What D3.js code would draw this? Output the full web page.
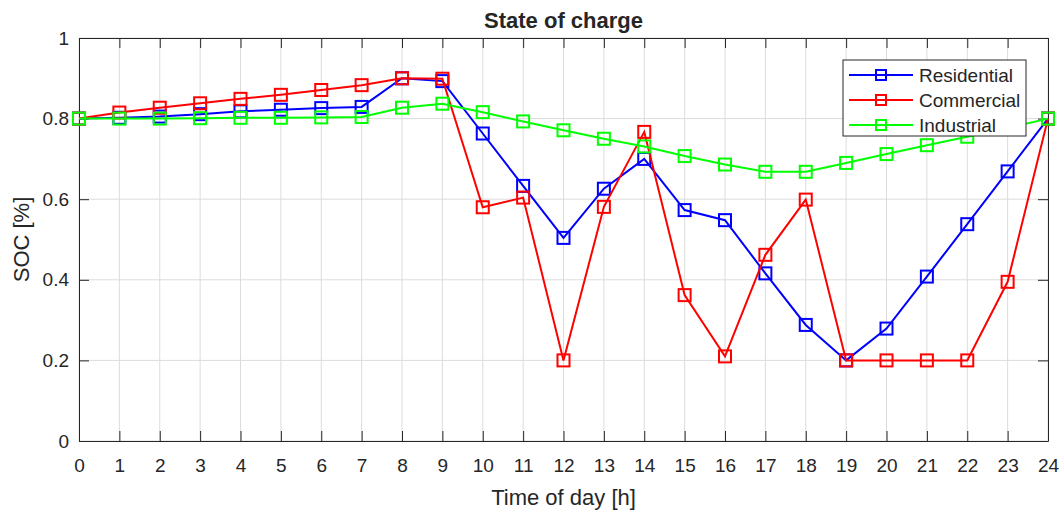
<!DOCTYPE html>
<html>
<head>
<meta charset="utf-8">
<script src="https://cdn.jsdelivr.net/npm/d3@7"></script>
<style>
  body { margin: 0; background: #fff; }
  svg text { font-family: "Liberation Sans", Arial, Helvetica, sans-serif; fill: #262626; }
</style>
</head>
<body>
<svg id="chart" width="1062" height="510"></svg>
<script>
// hours of the day
var hours = d3.range(0, 25);
var seriesNames = ["Residential", "Commercial", "Industrial"];
var seriesColors = ["#0000ff", "#ff0000", "#00ff00"];

var residential = [0.80, 0.802, 0.805, 0.811, 0.818, 0.822, 0.826, 0.829, 0.90, 0.893, 0.763, 0.633,
    0.504, 0.626, 0.70, 0.573, 0.548, 0.416, 0.288, 0.20, 0.279, 0.408, 0.538, 0.669, 0.80];
var commercial = [0.80, 0.815, 0.827, 0.838, 0.849, 0.859, 0.871, 0.883, 0.90, 0.899, 0.58, 0.604,
    0.20, 0.581, 0.767, 0.362, 0.21, 0.462, 0.599, 0.20, 0.20, 0.20, 0.20, 0.395, 0.80];
var industrial = [0.80, 0.80, 0.80, 0.801, 0.802, 0.802, 0.803, 0.804, 0.827, 0.837, 0.816, 0.793,
    0.771, 0.75, 0.731, 0.707, 0.686, 0.668, 0.668, 0.69, 0.712, 0.734, 0.755, 0.777, 0.80];

var xTicks = d3.range(0, 25);
var yTicks = [0, 0.2, 0.4, 0.6, 0.8, 1];

var margin = {left: 79, right: 14, top: 38, bottom: 69};
var width = 1062, height = 510;
var svg = d3.select("#chart");

var x = d3.scaleLinear().domain([0, 24]).range([margin.left, width - margin.right]);
var y = d3.scaleLinear().domain([0, 1]).range([height - margin.bottom, margin.top]);
var axisColor = "#262626";

// grid
var grid = svg.append("g");
grid.selectAll("line.gx").data(xTicks).enter().append("line")
    .attr("x1", function (d) { return x(d); }).attr("x2", function (d) { return x(d); })
    .attr("y1", y(0)).attr("y2", y(1))
    .attr("stroke", "#dcdcdc").attr("stroke-width", 1);
grid.selectAll("line.gy").data(yTicks).enter().append("line")
    .attr("y1", function (d) { return y(d); }).attr("y2", function (d) { return y(d); })
    .attr("x1", x(0)).attr("x2", x(24))
    .attr("stroke", "#dcdcdc").attr("stroke-width", 1);

// axes (box with inward ticks)
function styleAxis(g) {
    g.select(".domain").attr("stroke", axisColor);
    g.selectAll(".tick line").attr("stroke", axisColor);
    g.selectAll(".tick text").attr("font-size", "19px").attr("fill", axisColor);
}
svg.append("g").attr("transform", "translate(0," + y(0) + ")")
    .call(d3.axisBottom(x).tickValues(xTicks).tickFormat(d3.format("d")).tickSizeInner(-10).tickSizeOuter(0).tickPadding(18))
    .call(styleAxis);
svg.append("g").attr("transform", "translate(0," + y(1) + ")")
    .call(d3.axisTop(x).tickValues(xTicks).tickFormat("").tickSizeInner(-10).tickSizeOuter(0))
    .call(styleAxis);
svg.append("g").attr("transform", "translate(" + x(0) + ",0)")
    .call(d3.axisLeft(y).tickValues(yTicks).tickFormat(function (d) { return d3.format("")(+d.toFixed(1)); })
        .tickSizeInner(-10).tickSizeOuter(0).tickPadding(10))
    .call(styleAxis);
svg.append("g").attr("transform", "translate(" + x(24) + ",0)")
    .call(d3.axisRight(y).tickValues(yTicks).tickFormat("").tickSizeInner(-10).tickSizeOuter(0))
    .call(styleAxis);

// series
var allSeries = [residential, commercial, industrial];
var line = d3.line().x(function (d, i) { return x(hours[i]); }).y(function (d) { return y(d); });
var ms = 12;
allSeries.forEach(function (vals, k) {
    var g = svg.append("g");
    g.append("path").datum(vals).attr("d", line)
        .attr("fill", "none").attr("stroke", seriesColors[k]).attr("stroke-width", 2);
    g.selectAll("rect").data(vals).enter().append("rect")
        .attr("x", function (d, i) { return x(hours[i]) - ms / 2; })
        .attr("y", function (d) { return y(d) - ms / 2; })
        .attr("width", ms).attr("height", ms)
        .attr("fill", "none").attr("stroke", seriesColors[k]).attr("stroke-width", 2);
});

// title and labels
svg.append("text").attr("x", (x(0) + x(24)) / 2).attr("y", 28)
    .attr("text-anchor", "middle").attr("font-size", "22px").attr("font-weight", "bold")
    .attr("fill", "#000").text("State of charge");
svg.append("text").attr("x", (x(0) + x(24)) / 2).attr("y", 505)
    .attr("text-anchor", "middle").attr("font-size", "22px").text("Time of day [h]");
svg.append("text").attr("transform", "translate(29," + (y(0) + y(1)) / 2 + ") rotate(-90)")
    .attr("text-anchor", "middle").attr("font-size", "22px").text("SOC [%]");

// legend
var lg = svg.append("g").attr("transform", "translate(843,60)");
lg.append("rect").attr("width", 183).attr("height", 76)
    .attr("fill", "#fff").attr("stroke", axisColor).attr("stroke-width", 1);
var lms = 10;
seriesNames.forEach(function (name, k) {
    var yy = 15 + k * 25;
    lg.append("line").attr("x1", 6).attr("x2", 70).attr("y1", yy).attr("y2", yy)
        .attr("stroke", seriesColors[k]).attr("stroke-width", 2);
    lg.append("rect").attr("x", 38 - lms / 2).attr("y", yy - lms / 2).attr("width", lms).attr("height", lms)
        .attr("fill", "none").attr("stroke", seriesColors[k]).attr("stroke-width", 2);
    lg.append("text").attr("x", 76).attr("y", yy + 7).attr("font-size", "19px").attr("fill", "#000").text(name);
});
</script>
</body>
</html>
